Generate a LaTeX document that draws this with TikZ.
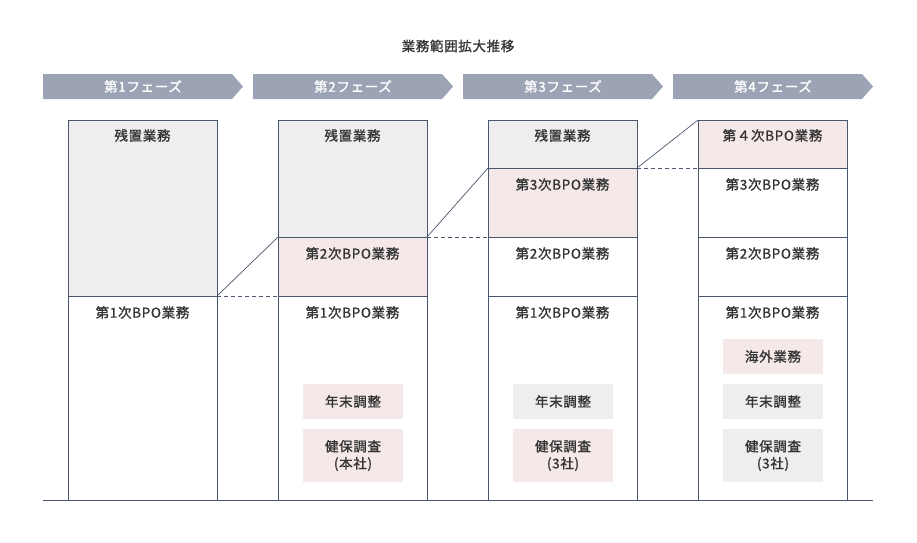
\documentclass[tikz,border=0pt]{standalone}
\usepackage{fontspec}
\setmainfont{Noto Sans CJK JP}
\newfontfamily\jp[LetterSpace=5,FakeBold=1.2]{Noto Sans CJK JP}
\usetikzlibrary{positioning}
\definecolor{edge}{HTML}{4A5670}
\definecolor{grayfill}{HTML}{EEEEEE}
\definecolor{pinkfill}{HTML}{F5E8E8}
\definecolor{phasefill}{HTML}{9BA3B4}
\definecolor{txt}{HTML}{333333}
\tikzset{
  sect/.style={draw=edge, line width=0.9pt, anchor=north west, minimum width=149pt, inner sep=0pt, outer sep=0pt},
  gsect/.style={sect, fill=grayfill},
  psect/.style={sect, fill=pinkfill},
  wsect/.style={sect, fill=white},
  lbl/.style={text=txt, font=\jp\fontsize{13.5}{17}\selectfont, anchor=north, inner sep=0pt, align=center},
  smallbox/.style={anchor=north west, minimum width=100pt, inner sep=0pt, outer sep=0pt},
  phase/.style={fill=phasefill},
  phaselbl/.style={text=white, font=\jp\fontsize{13.5}{17}\selectfont, inner sep=0pt},
  conn/.style={draw=edge, line width=0.7pt},
  dconn/.style={conn, dash pattern=on 4pt off 3pt},
}
\begin{document}
\begin{tikzpicture}[x=1pt,y=-1pt]
\useasboundingbox (0,0) rectangle (917,542);
% title
\node[lbl, anchor=center] (title) at (458,46) {業務範囲拡大推移};
% phases
\foreach \i/\x in {1/43,2/253,3/463,4/673}{
  \fill[phase] (\x,74) -- ++(189,0) -- ++(11,12.5) -- ++(-11,12.5) -- ++(-189,0) -- cycle;
  \node[phaselbl] (ph\i) at (\x+100,86.5) {第\i フェーズ};
}
% column 1
\node[gsect, minimum height=176pt] (c1a) at (68,120) {};
\node[wsect, minimum height=204pt] (c1b) at (68,296) {};
% column 2
\node[gsect, minimum height=117pt] (c2a) at (278,120) {};
\node[psect, minimum height=59pt] (c2b) at (278,237) {};
\node[wsect, minimum height=204pt] (c2c) at (278,296) {};
% column 3
\node[gsect, minimum height=48pt] (c3a) at (488,120) {};
\node[psect, minimum height=69pt] (c3b) at (488,168) {};
\node[wsect, minimum height=59pt] (c3c) at (488,237) {};
\node[wsect, minimum height=204pt] (c3d) at (488,296) {};
% column 4
\node[psect, minimum height=48pt] (c4a) at (698,120) {};
\node[wsect, minimum height=69pt] (c4b) at (698,168) {};
\node[wsect, minimum height=59pt] (c4c) at (698,237) {};
\node[wsect, minimum height=204pt] (c4d) at (698,296) {};
% baseline
\coordinate (bl) at (43,500);
\coordinate (br) at (873,500);
\draw[conn] (bl) -- (br);
% labels
\node[lbl] (t1a) at ([yshift=-9pt]c1a.north) {残置業務};
\node[lbl] (t1b) at ([yshift=-10pt]c1b.north) {第1次BPO業務};
\node[lbl] (t2a) at ([yshift=-9pt]c2a.north) {残置業務};
\node[lbl] (t2b) at ([yshift=-10pt]c2b.north) {第2次BPO業務};
\node[lbl] (t2c) at ([yshift=-10pt]c2c.north) {第1次BPO業務};
\node[lbl] (t3a) at ([yshift=-9pt]c3a.north) {残置業務};
\node[lbl] (t3b) at ([yshift=-10pt]c3b.north) {第3次BPO業務};
\node[lbl] (t3c) at ([yshift=-10pt]c3c.north) {第2次BPO業務};
\node[lbl] (t3d) at ([yshift=-10pt]c3d.north) {第1次BPO業務};
\node[lbl] (t4a) at ([yshift=-9pt]c4a.north) {第４次BPO業務};
\node[lbl] (t4b) at ([yshift=-10pt]c4b.north) {第3次BPO業務};
\node[lbl] (t4c) at ([yshift=-10pt]c4c.north) {第2次BPO業務};
\node[lbl] (t4d) at ([yshift=-10pt]c4d.north) {第1次BPO業務};
% small boxes
\node[smallbox, fill=pinkfill, minimum height=35pt] (b2a) at (303,384) {};
\node[lbl, anchor=center] at (b2a.center) {年末調整};
\node[smallbox, fill=pinkfill, minimum height=53pt] (b2b) at (303,429) {};
\node[lbl, anchor=center] at (b2b.center) {健保調査\\(本社)};
\node[smallbox, fill=grayfill, minimum height=35pt] (b3a) at (513,384) {};
\node[lbl, anchor=center] at (b3a.center) {年末調整};
\node[smallbox, fill=pinkfill, minimum height=53pt] (b3b) at (513,429) {};
\node[lbl, anchor=center] at (b3b.center) {健保調査\\(3社)};
\node[smallbox, fill=pinkfill, minimum height=35pt] (b4o) at (723,339) {};
\node[lbl, anchor=center] at (b4o.center) {海外業務};
\node[smallbox, fill=grayfill, minimum height=35pt] (b4a) at (723,384) {};
\node[lbl, anchor=center] at (b4a.center) {年末調整};
\node[smallbox, fill=grayfill, minimum height=53pt] (b4b) at (723,429) {};
\node[lbl, anchor=center] at (b4b.center) {健保調査\\(3社)};
% connectors
\draw[conn] (c1a.south east) -- (c2b.north west);
\draw[dconn] (c1a.south east) -- (c2b.south west);
\draw[conn] (c2a.south east) -- (c3b.north west);
\draw[dconn] (c2a.south east) -- (c3b.south west);
\draw[conn] (c3a.south east) -- (c4a.north west);
\draw[dconn] (c3a.south east) -- (c4a.south west);
\end{tikzpicture}
\end{document}
